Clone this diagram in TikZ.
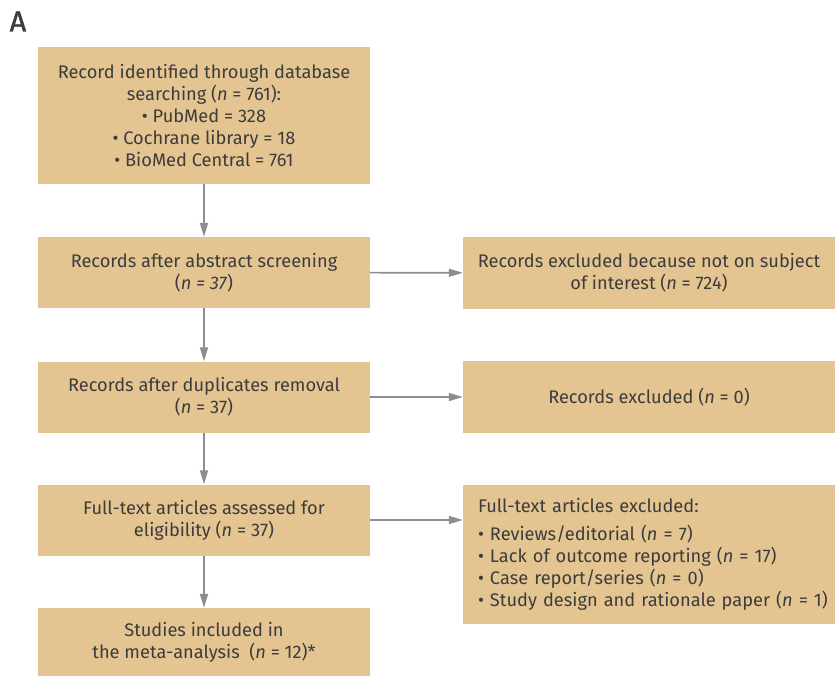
\documentclass[tikz,border=0pt]{standalone}
\usepackage{fontspec}
\setmainfont{Fira Sans}
\newfontfamily\labfont{Fira Sans}[FakeBold=1.5]
\usetikzlibrary{arrows.meta}
\definecolor{boxfill}{HTML}{E4C592}
\definecolor{txt}{HTML}{3C3C3C}
\definecolor{arr}{HTML}{8C8C92}
\tikzset{
  box/.style={fill=boxfill, draw=none, text=txt, align=center, inner sep=0pt,
    font=\fontsize{18.3}{22.2}\selectfont},
  leftbox/.style={box, minimum width=332bp},
  rightbox/.style={box, minimum width=372bp},
  flow/.style={draw=arr, line width=1.6bp, -{Triangle[length=14bp,width=8bp]}}
}
\newcommand{\ind}{\hspace*{15bp}}
\begin{document}
\begin{tikzpicture}[x=1bp,y=-1bp]
\useasboundingbox (0,0) rectangle (835,676);
\node[text=txt, font=\labfont\fontsize{29}{30}\selectfont, anchor=base west, inner sep=0pt] (lab) at (9.5,31.5) {A};
\node[leftbox, minimum height=137bp] (b1) at (204,115.5) {Record identified through database\\searching (\textit{n} = 761):\\• PubMed = 328\\• Cochrane library = 18\\• BioMed Central = 761};
\node[leftbox, minimum height=71bp] (b2) at (204,272.5) {Records after abstract screening\\(\textit{n = 37})};
\node[leftbox, minimum height=71bp] (b3) at (204,397) {Records after duplicates removal\\(\textit{n} = 37)};
\node[leftbox, minimum height=71bp] (b4) at (204,520) {Full-text articles assessed for\\eligibility (\textit{n} = 37)};
\node[leftbox, minimum height=68bp] (b5) at (204,642) {Studies included in\\the meta-analysis~~(\textit{n} = 12)*};
\node[rightbox, minimum height=72bp] (r1) at (649,273) {Records excluded because not on subject\\of interest (\textit{n} = 724)};
\node[rightbox, minimum height=72bp] (r2) at (649,397) {Records excluded (\textit{n} = 0)};
\node[rightbox, minimum height=139bp, align=left, text width=372bp] (r3) at (649,554.5) {\ind Full-text articles excluded:\\[5bp]\ind • Reviews/editorial (\textit{n} = 7)\\\ind • Lack of outcome reporting (\textit{n} = 17)\\\ind • Case report/series (\textit{n} = 0)\\\ind • Study design and rationale paper (\textit{n} = 1)};
\draw[flow] (b1) -- (b2);
\draw[flow] (b2) -- (b3);
\draw[flow] (b3) -- (b4);
\draw[flow] (b4) -- (b5);
\draw[flow] (b2) -- (r1);
\draw[flow] (b3) -- (r2);
\draw[flow] (b4.east) -- (b4.east -| r3.west);
\end{tikzpicture}
\end{document}
